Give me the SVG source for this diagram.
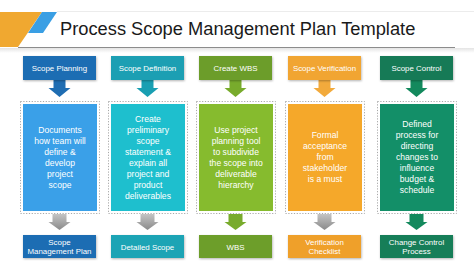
<svg xmlns="http://www.w3.org/2000/svg" width="474" height="271" viewBox="0 0 474 271">
<defs>
<style>
.t{font-family:"Liberation Sans",Arial,sans-serif;fill:#fff;text-anchor:middle}
.lab{font-size:7.9px}
.mid{font-size:8.6px}
.dot{fill:#fff;stroke:#a8a8a8;stroke-width:1;stroke-dasharray:1.2 1.6}
</style>
<linearGradient id="gray" x1="0" y1="0" x2="0" y2="1"><stop offset="0" stop-color="#c4c4c4"/><stop offset="1" stop-color="#8a8a8a"/></linearGradient>
<linearGradient id="hdr" x1="0" y1="0" x2="0" y2="1"><stop offset="0" stop-color="#e4e4e4"/><stop offset="1" stop-color="#ffffff"/></linearGradient>
<filter id="sh" x="-10%" y="-10%" width="120%" height="130%"><feDropShadow dx="0.6" dy="1" stdDeviation="0.8" flood-color="#000" flood-opacity="0.3"/></filter>
</defs>
<rect width="474" height="271" fill="#fff"/>
<g id="header">
<rect x="0" y="48" width="474" height="5" fill="url(#hdr)"/>
<line x1="57" y1="11.5" x2="474" y2="11.5" stroke="#ececec" stroke-width="1"/>
<polygon points="0,12 42,12 18,47 0,47" fill="#f0a830"/>
<polygon points="42,12 57,12 43,33 28,33" fill="#3a9fe4"/>
<line x1="18" y1="47.5" x2="455" y2="47.5" stroke="#8c8c8c" stroke-width="1"/>
<text x="60" y="35" font-family="Liberation Sans,Arial,sans-serif" font-size="18.3" fill="#1a1a1a">Process Scope Management Plan Template</text>
</g>
<g id="connectors">
<polygon points="53.5,80 65.5,80 65.5,88 70.5,88 59.5,97 48.5,88 53.5,88" fill="#1f6db2"/>
<polygon points="141.5,80 153.5,80 153.5,88 158.5,88 147.5,97 136.5,88 141.5,88" fill="#199fb2"/>
<polygon points="229.5,80 241.5,80 241.5,88 246.5,88 235.5,97 224.5,88 229.5,88" fill="#78ab2c"/>
<polygon points="318.5,80 330.5,80 330.5,88 335.5,88 324.5,97 313.5,88 318.5,88" fill="#f2aa3c"/>
<polygon points="410.5,80 422.5,80 422.5,88 427.5,88 416.5,97 405.5,88 410.5,88" fill="#13895d"/>
<polygon points="52.5,214 66.5,214 66.5,222 70.5,222 59.5,230 48.5,222 52.5,222" fill="url(#gray)"/>
<polygon points="140.5,214 154.5,214 154.5,222 158.5,222 147.5,230 136.5,222 140.5,222" fill="url(#gray)"/>
<polygon points="228.5,214 242.5,214 242.5,222 246.5,222 235.5,230 224.5,222 228.5,222" fill="#78ab2c"/>
<polygon points="317.5,214 331.5,214 331.5,222 335.5,222 324.5,230 313.5,222 317.5,222" fill="url(#gray)"/>
<polygon points="409.5,214 423.5,214 423.5,222 427.5,222 416.5,230 405.5,222 409.5,222" fill="#13895d"/>
</g>
<g id="scope-planning">
<rect x="23" y="56" width="73" height="24" fill="#1e6db3" filter="url(#sh)"/>
<text class="t lab" x="59.5" y="71">Scope Planning</text>
</g>
<g id="scope-definition">
<rect x="111" y="56" width="73" height="24" fill="#1a9fb3" filter="url(#sh)"/>
<text class="t lab" x="147.5" y="71">Scope Definition</text>
</g>
<g id="create-wbs">
<rect x="199" y="56" width="73" height="24" fill="#6c9d2c" filter="url(#sh)"/>
<text class="t lab" x="235.5" y="71">Create WBS</text>
</g>
<g id="scope-verification">
<rect x="288" y="56" width="73" height="24" fill="#f1a530" filter="url(#sh)"/>
<text class="t lab" x="324.5" y="71">Scope Verification</text>
</g>
<g id="scope-control">
<rect x="380" y="56" width="73" height="24" fill="#137a57" filter="url(#sh)"/>
<text class="t lab" x="416.5" y="71">Scope Control</text>
</g>
<g id="documents">
<rect class="dot" x="20.5" y="101.5" width="79" height="112"/>
<rect x="23" y="104" width="74" height="107" fill="#3aa0e8"/>
<text class="t mid" y="132.5"><tspan x="60" dy="0">Documents</tspan><tspan x="60" dy="11">how team will</tspan><tspan x="60" dy="11">define &amp;</tspan><tspan x="60" dy="11">develop</tspan><tspan x="60" dy="11">project</tspan><tspan x="60" dy="11">scope</tspan></text>
</g>
<g id="create-preliminary">
<rect class="dot" x="108.5" y="101.5" width="79" height="112"/>
<rect x="111" y="104" width="74" height="107" fill="#1ebfce"/>
<text class="t mid" y="121.5"><tspan x="148" dy="0">Create</tspan><tspan x="148" dy="11">preliminary</tspan><tspan x="148" dy="11">scope</tspan><tspan x="148" dy="11">statement &amp;</tspan><tspan x="148" dy="11">explain all</tspan><tspan x="148" dy="11">project and</tspan><tspan x="148" dy="11">product</tspan><tspan x="148" dy="11">deliverables</tspan></text>
</g>
<g id="use-project">
<rect class="dot" x="196.5" y="101.5" width="79" height="112"/>
<rect x="199" y="104" width="74" height="107" fill="#86bb2e"/>
<text class="t mid" y="132.5"><tspan x="236" dy="0">Use project</tspan><tspan x="236" dy="11">planning tool</tspan><tspan x="236" dy="11">to subdivide</tspan><tspan x="236" dy="11">the scope into</tspan><tspan x="236" dy="11">deliverable</tspan><tspan x="236" dy="11">hierarchy</tspan></text>
</g>
<g id="formal-acceptance">
<rect class="dot" x="285.5" y="101.5" width="79" height="112"/>
<rect x="288" y="104" width="74" height="107" fill="#f5a82a"/>
<text class="t mid" y="138"><tspan x="325" dy="0">Formal</tspan><tspan x="325" dy="11">acceptance</tspan><tspan x="325" dy="11">from</tspan><tspan x="325" dy="11">stakeholder</tspan><tspan x="325" dy="11">is a must</tspan></text>
</g>
<g id="defined-process">
<rect class="dot" x="377.5" y="101.5" width="79" height="112"/>
<rect x="380" y="104" width="74" height="107" fill="#138f68"/>
<text class="t mid" y="127"><tspan x="417" dy="0">Defined</tspan><tspan x="417" dy="11">process for</tspan><tspan x="417" dy="11">directing</tspan><tspan x="417" dy="11">changes to</tspan><tspan x="417" dy="11">influence</tspan><tspan x="417" dy="11">budget &amp;</tspan><tspan x="417" dy="11">schedule</tspan></text>
</g>
<g id="scope-management-plan">
<rect x="23" y="235" width="73" height="23" fill="#1e6db3" filter="url(#sh)"/>
<text class="t lab" y="245"><tspan x="59.5" dy="0">Scope</tspan><tspan x="59.5" dy="9">Management Plan</tspan></text>
</g>
<g id="detailed-scope">
<rect x="111" y="235" width="73" height="23" fill="#1aa4b5" filter="url(#sh)"/>
<text class="t lab" x="147.5" y="249.5">Detailed Scope</text>
</g>
<g id="wbs">
<rect x="199" y="235" width="73" height="23" fill="#6d9e2c" filter="url(#sh)"/>
<text class="t lab" x="235.5" y="249.5">WBS</text>
</g>
<g id="verification-checklist">
<rect x="288" y="235" width="73" height="23" fill="#efa02a" filter="url(#sh)"/>
<text class="t lab" y="245"><tspan x="324.5" dy="0">Verification</tspan><tspan x="324.5" dy="9">Checklist</tspan></text>
</g>
<g id="change-control-process">
<rect x="380" y="235" width="73" height="23" fill="#137e59" filter="url(#sh)"/>
<text class="t lab" y="245"><tspan x="416.5" dy="0">Change Control</tspan><tspan x="416.5" dy="9">Process</tspan></text>
</g>
</svg>
